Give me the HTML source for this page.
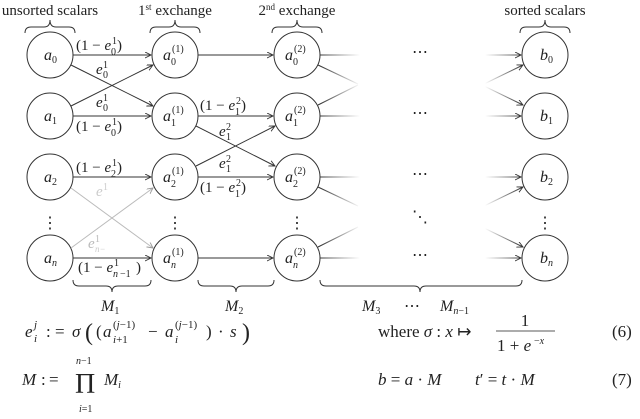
<!DOCTYPE html>
<html><head><meta charset="utf-8"><style>
html,body{margin:0;padding:0;background:#fff;}
svg{display:block;}
text{font-family:"Liberation Serif",serif;fill:#222;}
.m{font-style:italic;}
</style></head><body>
<svg width="640" height="419" viewBox="0 0 640 419" xmlns="http://www.w3.org/2000/svg">
<defs>
<marker id="ar" markerWidth="8" markerHeight="8" refX="6" refY="3" orient="auto" markerUnits="userSpaceOnUse">
<path d="M0,0 L6,3 L0,6" fill="none" stroke="#333" stroke-width="0.9"/></marker>
<marker id="arf" markerWidth="8" markerHeight="8" refX="6" refY="3" orient="auto" markerUnits="userSpaceOnUse">
<path d="M0,0 L6,3 L0,6" fill="none" stroke="#999" stroke-width="0.9"/></marker>
<linearGradient id="go" gradientUnits="userSpaceOnUse" x1="320" y1="0" x2="360" y2="0"><stop offset="0" stop-color="#333"/><stop offset="1" stop-color="#fff"/></linearGradient>
<linearGradient id="gi" gradientUnits="userSpaceOnUse" x1="485" y1="0" x2="522" y2="0"><stop offset="0" stop-color="#fff"/><stop offset="1" stop-color="#333"/></linearGradient>
</defs>
<g fill="none" stroke="#333" stroke-width="1">
<circle cx="50" cy="55" r="23"/><circle cx="50" cy="116" r="23"/><circle cx="50" cy="177" r="23"/><circle cx="50" cy="258" r="23"/>
<circle cx="175" cy="55" r="23"/><circle cx="175" cy="116" r="23"/><circle cx="175" cy="177" r="23"/><circle cx="175" cy="258" r="23"/>
<circle cx="297" cy="55" r="23"/><circle cx="297" cy="116" r="23"/><circle cx="297" cy="177" r="23"/><circle cx="297" cy="258" r="23"/>
<circle cx="545" cy="55" r="23"/><circle cx="545" cy="116" r="23"/><circle cx="545" cy="177" r="23"/><circle cx="545" cy="258" r="23"/>
<line x1="73" y1="55" x2="151" y2="55" marker-end="url(#ar)"/>
<line x1="73" y1="116" x2="151" y2="116" marker-end="url(#ar)"/>
<line x1="73" y1="177" x2="151" y2="177" marker-end="url(#ar)"/>
<line x1="73" y1="258" x2="151" y2="258" marker-end="url(#ar)"/>
<line x1="71" y1="65" x2="153" y2="106" marker-end="url(#ar)"/>
<line x1="71" y1="106" x2="153" y2="65" marker-end="url(#ar)"/>
<line x1="71" y1="188" x2="153" y2="248" stroke="#bbb" marker-end="url(#arf)"/>
<line x1="71" y1="248" x2="153" y2="188" stroke="#bbb" marker-end="url(#arf)"/>
<line x1="198" y1="55" x2="273" y2="55" marker-end="url(#ar)"/>
<line x1="198" y1="116" x2="273" y2="116" marker-end="url(#ar)"/>
<line x1="198" y1="177" x2="273" y2="177" marker-end="url(#ar)"/>
<line x1="198" y1="258" x2="273" y2="258" marker-end="url(#ar)"/>
<line x1="196" y1="126" x2="275" y2="166" marker-end="url(#ar)"/>
<line x1="196" y1="166" x2="275" y2="126" marker-end="url(#ar)"/>
<g stroke="url(#go)">
<line x1="320" y1="55" x2="360" y2="55.01"/><line x1="320" y1="116" x2="360" y2="116.01"/>
<line x1="320" y1="177" x2="360" y2="177.01"/><line x1="320" y1="258" x2="360" y2="258.01"/>
<line x1="318" y1="65" x2="358" y2="84"/><line x1="318" y1="105" x2="358" y2="85"/>
<line x1="318" y1="187" x2="358" y2="206"/><line x1="318" y1="247" x2="358" y2="227"/>
</g>
<g stroke="url(#gi)">
<line x1="485" y1="55" x2="521" y2="55.01" marker-end="url(#ar)"/><line x1="485" y1="116" x2="521" y2="116.01" marker-end="url(#ar)"/>
<line x1="485" y1="177" x2="521" y2="177.01" marker-end="url(#ar)"/><line x1="485" y1="258" x2="521" y2="258.01" marker-end="url(#ar)"/>
<line x1="484" y1="84" x2="523" y2="65" marker-end="url(#ar)"/><line x1="484" y1="86" x2="523" y2="105" marker-end="url(#ar)"/>
<line x1="484" y1="206" x2="523" y2="187" marker-end="url(#ar)"/><line x1="484" y1="228" x2="523" y2="247" marker-end="url(#ar)"/>
</g>
<path d="M25,33 Q25,27 31,27 L44,27 Q50,27 50,20 Q50,27 56,27 L69,27 Q75,27 75,33"/>
<path d="M150,33 Q150,27 156,27 L169,27 Q175,27 175,20 Q175,27 181,27 L194,27 Q200,27 200,33"/>
<path d="M272,33 Q272,27 278,27 L291,27 Q297,27 297,20 Q297,27 303,27 L316,27 Q322,27 322,33"/>
<path d="M520,33 Q520,27 526,27 L539,27 Q545,27 545,20 Q545,27 551,27 L564,27 Q570,27 570,33"/>
<path d="M73,280 Q73,286 79,286 L106,286 Q112,286 112,292 Q112,286 118,286 L145,286 Q151,286 151,280"/>
<path d="M198,280 Q198,286 204,286 L230,286 Q236,286 236,292 Q236,286 242,286 L268,286 Q274,286 274,280"/>
<path d="M320,280 Q320,286 326,286 L414,286 Q420,286 420,292 Q420,286 426,286 L516,286 Q522,286 522,280"/>
</g>
<text x="50" y="15" font-size="15" text-anchor="middle">unsorted scalars</text>
<text x="175" y="15" font-size="15" text-anchor="middle">1<tspan font-size="9" dy="-5">st</tspan><tspan dy="5"> exchange</tspan></text>
<text x="297" y="15" font-size="15" text-anchor="middle">2<tspan font-size="9" dy="-5">nd</tspan><tspan dy="5"> exchange</tspan></text>
<text x="545" y="15" font-size="15" text-anchor="middle">sorted scalars</text>
<g font-size="16">
<text x="44" y="60" class="m">a<tspan font-size="10" dy="3" font-style="normal">0</tspan></text>
<text x="44" y="121" class="m">a<tspan font-size="10" dy="3" font-style="normal">1</tspan></text>
<text x="44" y="182" class="m">a<tspan font-size="10" dy="3" font-style="normal">2</tspan></text>
<text x="44" y="263" class="m">a<tspan font-size="10" dy="3">n</tspan></text>
<text x="540" y="60" class="m">b<tspan font-size="10" dy="3" font-style="normal">0</tspan></text>
<text x="540" y="121" class="m">b<tspan font-size="10" dy="3" font-style="normal">1</tspan></text>
<text x="540" y="182" class="m">b<tspan font-size="10" dy="3" font-style="normal">2</tspan></text>
<text x="540" y="263" class="m">b<tspan font-size="10" dy="3">n</tspan></text>
</g>
<g font-size="16">
<text x="163" y="60" class="m">a</text><text x="172" y="52" font-size="10">(1)</text><text x="171" y="65" font-size="10">0</text>
<text x="163" y="121" class="m">a</text><text x="172" y="113" font-size="10">(1)</text><text x="171" y="126" font-size="10">1</text>
<text x="163" y="182" class="m">a</text><text x="172" y="174" font-size="10">(1)</text><text x="171" y="187" font-size="10">2</text>
<text x="163" y="263" class="m">a</text><text x="172" y="255" font-size="10">(1)</text><text x="171" y="268" font-size="10" class="m">n</text>
<text x="285" y="60" class="m">a</text><text x="294" y="52" font-size="10">(2)</text><text x="293" y="65" font-size="10">0</text>
<text x="285" y="121" class="m">a</text><text x="294" y="113" font-size="10">(2)</text><text x="293" y="126" font-size="10">1</text>
<text x="285" y="182" class="m">a</text><text x="294" y="174" font-size="10">(2)</text><text x="293" y="187" font-size="10">2</text>
<text x="285" y="263" class="m">a</text><text x="294" y="255" font-size="10">(2)</text><text x="293" y="268" font-size="10" class="m">n</text>
</g>
<g font-size="16" text-anchor="middle">
<text x="50" y="228">⋮</text><text x="175" y="228">⋮</text><text x="297" y="228">⋮</text><text x="545" y="228">⋮</text>
<text x="420" y="57">⋯</text><text x="420" y="118">⋯</text><text x="420" y="179">⋯</text><text x="420" y="260">⋯</text>
<text x="420" y="222">⋱</text>
</g>
<g font-size="15">
<text x="76" y="50">(1 − <tspan class="m">e</tspan></text><text x="112" y="44" font-size="10">1</text><text x="111" y="55" font-size="10">0</text><text x="117" y="50">)</text>
<text x="96" y="74" class="m">e</text><text x="103" y="68" font-size="10">1</text><text x="103" y="78" font-size="10">0</text>
<text x="96" y="107" class="m">e</text><text x="103" y="101" font-size="10">1</text><text x="103" y="111" font-size="10">0</text>
<text x="76" y="131">(1 − <tspan class="m">e</tspan></text><text x="112" y="125" font-size="10">1</text><text x="111" y="136" font-size="10">0</text><text x="117" y="131">)</text>
<text x="76" y="172">(1 − <tspan class="m">e</tspan></text><text x="112" y="166" font-size="10">1</text><text x="111" y="177" font-size="10">2</text><text x="117" y="172">)</text>
<text x="96" y="196" class="m" style="fill:#ccc">e</text><text x="103" y="190" font-size="10" style="fill:#ccc">1</text>
<text x="88" y="248" class="m" style="fill:#bbb">e</text><text x="95" y="242" font-size="10" style="fill:#bbb">1</text><text x="95" y="252" font-size="9" class="m" style="fill:#ccc">n−</text>
<text x="78" y="272">(1 − <tspan class="m">e</tspan></text><text x="114" y="266" font-size="10">1</text><text x="113" y="277" font-size="10" class="m">n</text><text x="120" y="277" font-size="10">−1</text><text x="136" y="272">)</text>
<text x="200" y="110">(1 − <tspan class="m">e</tspan></text><text x="236" y="104" font-size="10">2</text><text x="235" y="115" font-size="10">1</text><text x="241" y="110">)</text>
<text x="219" y="136" class="m">e</text><text x="226" y="130" font-size="10">2</text><text x="226" y="140" font-size="10">1</text>
<text x="219" y="168" class="m">e</text><text x="226" y="162" font-size="10">2</text><text x="226" y="172" font-size="10">1</text>
<text x="200" y="192">(1 − <tspan class="m">e</tspan></text><text x="236" y="186" font-size="10">2</text><text x="235" y="197" font-size="10">1</text><text x="241" y="192">)</text>
</g>
<g font-size="16">
<text x="101" y="311" class="m">M<tspan font-size="10" dy="3" font-style="normal">1</tspan></text>
<text x="225" y="311" class="m">M<tspan font-size="10" dy="3" font-style="normal">2</tspan></text>
<text x="362" y="311" class="m">M<tspan font-size="10" dy="3" font-style="normal">3</tspan></text>
<text x="404" y="311">⋯</text>
<text x="440" y="311" class="m">M<tspan font-size="10" dy="3">n</tspan><tspan font-size="10" font-style="normal">−1</tspan></text>
</g>
<g font-size="17">
<text x="25" y="337" class="m">e</text><text x="34" y="328" font-size="11" class="m">j</text><text x="34" y="342" font-size="11" class="m">i</text>
<text x="46" y="337">:</text><text x="55" y="337">=</text><text x="72" y="337" class="m">σ</text>
<text x="85" y="340" font-size="24">(</text><text x="96" y="337">(</text><text x="103" y="337" class="m">a</text>
<text x="113" y="328" font-size="11">(<tspan class="m">j</tspan>−1)</text><text x="113" y="343" font-size="11"><tspan class="m">i</tspan>+1</text>
<text x="148" y="337">−</text><text x="165" y="337" class="m">a</text>
<text x="175" y="328" font-size="11">(<tspan class="m">j</tspan>−1)</text><text x="175" y="343" font-size="11" class="m">i</text>
<text x="206" y="337">)</text><text x="218" y="337">·</text><text x="230" y="337" class="m">s</text><text x="242" y="340" font-size="24">)</text>
<text x="378" y="337">where  <tspan class="m">σ</tspan> : <tspan class="m">x</tspan> ↦</text>
<text x="525" y="326" text-anchor="middle">1</text>
<line x1="496" y1="331" x2="555" y2="331" stroke="#222" stroke-width="0.8"/>
<text x="497" y="351">1 + <tspan class="m">e</tspan></text><text x="534" y="344" font-size="10">−<tspan class="m">x</tspan></text>
<text x="612" y="337">(6)</text>
<text x="22" y="385" class="m">M</text><text x="41" y="385">:</text><text x="49" y="385">=</text>
<text x="75" y="393" font-size="28">Π</text>
<text x="76" y="364" font-size="10" class="m">n<tspan font-style="normal">−1</tspan></text>
<text x="79" y="412" font-size="10" class="m">i<tspan font-style="normal">=1</tspan></text>
<text x="104" y="385" class="m">M<tspan font-size="10" dy="3">i</tspan></text>
<text x="378" y="385" class="m">b<tspan font-style="normal"> = </tspan>a<tspan font-style="normal"> · </tspan>M</text>
<text x="475" y="385" class="m">t<tspan font-style="normal">′ = </tspan>t<tspan font-style="normal"> · </tspan>M</text>
<text x="612" y="385">(7)</text>
</g>
</svg>
</body></html>
